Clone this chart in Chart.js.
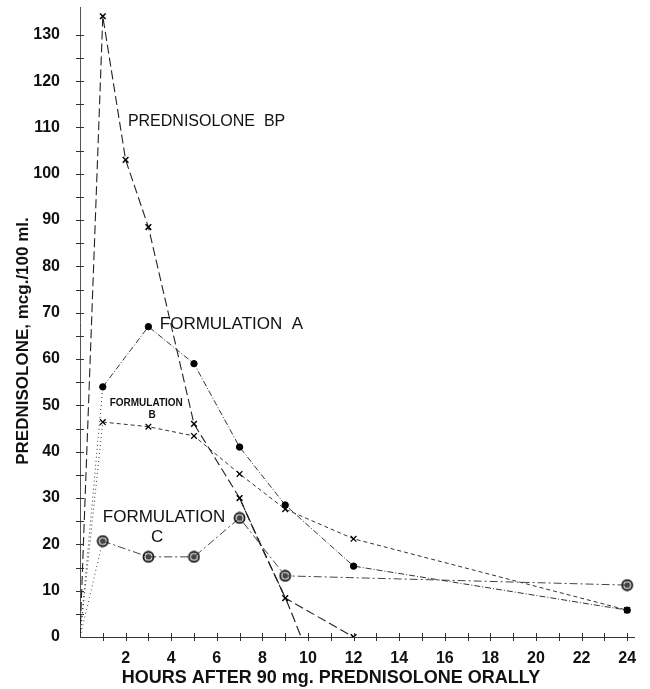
<!DOCTYPE html>
<html>
<head>
<meta charset="utf-8">
<script src="https://cdn.jsdelivr.net/npm/chart.js@4/dist/chart.umd.min.js"></script>
<style>
  html, body { margin: 0; padding: 0; background: #fff; }
  #wrap { width: 650px; height: 689px; }
</style>
</head>
<body>
<div id="wrap"><canvas id="chart" width="650" height="689"></canvas></div>
<script>
// Plasma prednisolone after 90 mg orally
const bpHours = [0, 1, 2, 3, 5, 7, 9, 12];
const bpValues = [0, 134, 103, 88.5, 46, 30, 8.4, 0];
const bpCurveHours = [7, 8, 9, 9.7];
const bpCurveValues = [30, 19, 8.5, 0];

const formHours = [0, 1, 3, 5, 7, 9, 12, 24];
const formAValues = [0, 54, 67, 59, 41, 28.5, 15.3, 5.8];
const formBValues = [0, 46.4, 45.4, 43.4, 35.2, 27.6, 21.2, 5.8];

const formCHours = [0, 1, 3, 5, 7, 9, 24];
const formCValues = [0, 20.7, 17.3, 17.3, 25.7, 13.2, 11.2];

const xTickLabels = [2, 4, 6, 8, 10, 12, 14, 16, 18, 20, 22, 24];
const yTickLabels = [0, 10, 20, 30, 40, 50, 60, 70, 80, 90, 100, 110, 120, 130];

const INK = '#222';

function toPoints(xs, ys) {
  return xs.map((x, i) => ({ x: x, y: ys[i] }));
}

// circled dot marker used for formulation C
function makeCircledDot() {
  const c = document.createElement('canvas');
  c.width = 13; c.height = 13;
  const g = c.getContext('2d');
  g.strokeStyle = '#111';
  g.lineWidth = 1.8;
  g.beginPath(); g.arc(6.5, 6.5, 5, 0, Math.PI * 2); g.stroke();
  g.fillStyle = '#444';
  g.beginPath(); g.arc(6.5, 6.5, 3, 0, Math.PI * 2); g.fill();
  return c;
}

// hide the marker at time zero, dot the rising segment
const hideZero = r => ctx => (ctx.raw && ctx.raw.x === 0 ? 0 : r);
const risingDots = base => ({
  borderDash: ctx => (ctx.p0.parsed.x === 0 ? [1, 3] : base)
});

// "+" ticks crossing both axes
const crossTicks = {
  id: 'crossTicks',
  afterDatasetsDraw(chart) {
    const { ctx, scales: { x, y } } = chart;
    const x0 = x.getPixelForValue(0);
    const y0 = y.getPixelForValue(0);
    ctx.save();
    ctx.strokeStyle = '#333';
    ctx.lineWidth = 1;
    for (let v = 5; v <= 130; v += 5) {
      const py = Math.round(y.getPixelForValue(v)) + 0.5;
      ctx.beginPath(); ctx.moveTo(x0 - 4, py); ctx.lineTo(x0 + 4, py); ctx.stroke();
    }
    for (let h = 1; h <= 24; h++) {
      const px = Math.round(x.getPixelForValue(h)) + 0.5;
      ctx.beginPath(); ctx.moveTo(px, y0 - 4); ctx.lineTo(px, y0 + 4); ctx.stroke();
    }
    ctx.restore();
  }
};

// curve labels written into the plot, plus both axis titles
const curveLabels = {
  id: 'curveLabels',
  afterDatasetsDraw(chart) {
    const { ctx, scales: { x, y } } = chart;
    const put = (text, hx, vy, font, align) => {
      ctx.font = font;
      ctx.textAlign = align || 'left';
      ctx.fillText(text, x.getPixelForValue(hx), y.getPixelForValue(vy));
    };
    ctx.save();
    ctx.fillStyle = '#111';
    ctx.textBaseline = 'middle';
    put('PREDNISOLONE  BP', 2.1, 111.2, '16px "Liberation Sans"');
    put('FORMULATION  A', 3.5, 67.4, '17px "Liberation Sans"');
    put('FORMULATION', 1.3, 50.5, 'bold 10px "Liberation Sans"');
    put('B', 3.16, 47.9, 'bold 10px "Liberation Sans"', 'center');
    put('FORMULATION', 1.0, 25.9, '17px "Liberation Sans"');
    put('C', 3.38, 21.6, '17px "Liberation Sans"', 'center');

    ctx.textAlign = 'center';
    ctx.font = 'bold 18px "Liberation Sans"';
    ctx.fillText('HOURS AFTER 90 mg. PREDNISOLONE ORALLY', 331, 678);

    ctx.translate(23, 341);
    ctx.rotate(-Math.PI / 2);
    ctx.font = 'bold 17px "Liberation Sans"';
    ctx.fillText('PREDNISOLONE, mcg./100 ml.', 0, 0);
    ctx.restore();
  }
};

const chart = new Chart(document.getElementById('chart'), {
  type: 'line',
  data: {
    datasets: [
      {
        label: 'Prednisolone BP',
        data: toPoints(bpHours, bpValues),
        borderColor: INK,
        borderWidth: 1.1,
        borderDash: [9, 4],
        pointStyle: 'crossRot',
        pointRadius: hideZero(4),
        pointBorderColor: '#000',
        pointBorderWidth: 1.5,
        tension: 0
      },
      {
        label: 'Prednisolone BP curve',
        data: toPoints(bpCurveHours, bpCurveValues),
        borderColor: INK,
        borderWidth: 1.2,
        borderDash: [10, 4],
        pointRadius: 0,
        tension: 0.3
      },
      {
        label: 'Formulation A',
        data: toPoints(formHours, formAValues),
        borderColor: '#333',
        borderWidth: 1,
        borderDash: [6, 2, 1, 2],
        segment: risingDots([6, 2, 1, 2]),
        pointStyle: 'circle',
        pointRadius: hideZero(3.2),
        pointBackgroundColor: '#000',
        pointBorderColor: '#000',
        tension: 0
      },
      {
        label: 'Formulation B',
        data: toPoints(formHours, formBValues),
        borderColor: '#333',
        borderWidth: 1,
        borderDash: [4, 3],
        segment: risingDots([4, 3]),
        pointStyle: 'crossRot',
        pointRadius: hideZero(4),
        pointBorderColor: '#000',
        pointBorderWidth: 1.3,
        tension: 0
      },
      {
        label: 'Formulation C',
        data: toPoints(formCHours, formCValues),
        borderColor: '#444',
        borderWidth: 1,
        borderDash: [8, 3, 2, 3],
        segment: risingDots([8, 3, 2, 3]),
        pointStyle: makeCircledDot(),
        pointRadius: hideZero(6),
        tension: 0
      }
    ]
  },
  options: {
    responsive: false,
    animation: false,
    layout: { padding: { top: 7, right: 16, left: 0, bottom: 0 } },
    plugins: {
      legend: { display: false },
      tooltip: { enabled: false }
    },
    scales: {
      x: {
        type: 'linear',
        min: 0,
        max: 24.3,
        grid: { display: false },
        border: { color: '#333', width: 1, dash: [4, 2] },
        afterFit: s => { s.height = 52; s.paddingLeft = 0; s.paddingRight = 0; },
        ticks: {
          stepSize: 1,
          includeBounds: false,
          autoSkip: false,
          maxRotation: 0,
          padding: 4,
          color: '#111',
          font: { family: '"Liberation Sans Narrow", "Liberation Sans"', size: 16, weight: 'bold' },
          callback: v => (xTickLabels.includes(v) ? String(v) : '')
        }
      },
      y: {
        type: 'linear',
        min: 0,
        max: 136,
        grid: { display: false },
        border: { color: '#555', width: 1, dash: [2, 2] },
        afterFit: s => { s.width = 80; s.paddingTop = 0; s.paddingBottom = 0; },
        ticks: {
          stepSize: 5,
          includeBounds: false,
          autoSkip: false,
          padding: 12,
          color: '#111',
          font: { family: '"Liberation Sans Narrow", "Liberation Sans"', size: 16, weight: 'bold' },
          callback: v => (yTickLabels.includes(v) ? String(v) : '')
        }
      }
    }
  },
  plugins: [crossTicks, curveLabels]
});
</script>
</body>
</html>
